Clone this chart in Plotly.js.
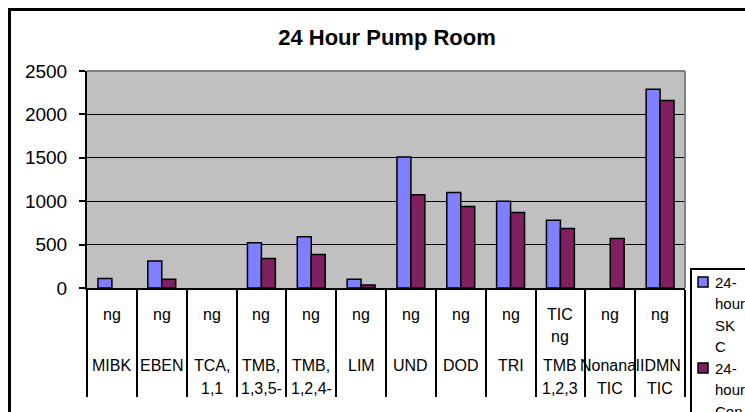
<!DOCTYPE html>
<html>
<head>
<meta charset="utf-8">
<script src="https://cdn.plot.ly/plotly-3.0.1.min.js"></script>
<style>
html,body{margin:0;padding:0;background:#fff;}
#chart{width:745px;height:412px;}
</style>
</head>
<body>
<div id="chart"></div>
<script>
// ---- data ----
const categories = ["MIBK", "EBEN", "TCA, 1,1", "TMB, 1,3,5-", "TMB, 1,2,4-", "LIM", "UND", "DOD", "TRI", "TMB 1,2,3", "Nonanal TIC", "IDMN TIC"];
const unitLine1 = ["ng", "ng", "ng", "ng", "ng", "ng", "ng", "ng", "ng", "TIC", "ng", "ng"];
const unitLine2 = ["", "", "", "", "", "", "", "", "", "ng", "", ""];
const nameLine1 = ["MIBK", "EBEN", "TCA,", "TMB,", "TMB,", "LIM", "UND", "DOD", "TRI", "TMB", "Nonanal", "IDMN"];
const nameLine2 = ["", "", "1,1", "1,3,5-", "1,2,4-", "", "", "", "", "1,2,3", "TIC", "TIC"];
const skcValues = [110, 310, null, 520, 590, 100, 1510, 1100, 1000, 780, null, 2290];
const controlValues = [null, 100, null, 340, 385, 35, 1075, 940, 870, 685, 570, 2160];
const seriesNames = ["24-hour SKC", "24-hour Control"];
const legendLines = [["24-", "hour", "SK", "C"], ["24-", "hour", "Con"]];
const seriesColors = ['#8080FF', '#802060'];
const yTicks = [0, 500, 1000, 1500, 2000, 2500];

// ---- layout helpers (pixel geometry) ----
const W = 745, H = 412;
const L = 87, R = 685, T = 71, B = 288;
const py = Y => (B - Y) / (B - T);
const px = X => (X - L) / (R - L);
const FONT = '"Liberation Sans", Arial, sans-serif';

const traces = [skcValues, controlValues].map((vals, k) => ({
  type: 'bar', name: seriesNames[k], x: categories, y: vals, showlegend: false,
  marker: {color: seriesColors[k], line: {color: '#000', width: 1.5}}
}));

const annotations = [];
const rows = [[unitLine1, 314], [unitLine2, 336], [nameLine1, 365], [nameLine2, 388]];
rows.forEach(([arr, Y]) => {
  arr.forEach((t, i) => {
    if (!t) return;
    annotations.push({xref: 'x', yref: 'paper', x: i, y: py(Y), text: t, showarrow: false,
      xanchor: 'center', yanchor: 'middle', font: {family: FONT, size: 16, color: '#000'}});
  });
});

const shapes = [
  // outer chart border
  {type: 'rect', xref: 'paper', yref: 'paper', x0: px(9.5), x1: px(800), y0: py(9.5), y1: py(500),
   line: {color: '#000', width: 3}, fillcolor: 'rgba(0,0,0,0)', layer: 'below'},
  // plot top & right border (gray)
  {type: 'line', xref: 'paper', yref: 'paper', x0: 0, x1: 1, y0: 1, y1: 1, line: {color: '#808080', width: 2}},
  {type: 'line', xref: 'paper', yref: 'paper', x0: 1, x1: 1, y0: 0, y1: 1, line: {color: '#808080', width: 2}},
  // legend box
  {type: 'rect', xref: 'paper', yref: 'paper', x0: px(691), x1: px(800), y0: py(269), y1: py(500),
   line: {color: '#000', width: 2}, fillcolor: '#fff'}
];

// legend entries (drawn manually, as in the reference's narrow legend box)
const lineStep = 21.5;
legendLines.forEach((lines, k) => {
  const top = 282 + k * 4 * lineStep;
  shapes.push({type: 'rect', xref: 'paper', yref: 'paper', x0: px(698), x1: px(708),
    y0: py(top - 5), y1: py(top + 5), fillcolor: seriesColors[k], line: {color: '#000', width: 1.5}});
  lines.forEach((t, j) => {
    annotations.push({xref: 'paper', yref: 'paper', x: px(713), y: py(top + j * lineStep), text: t,
      showarrow: false, xanchor: 'left', yanchor: 'middle',
      font: {family: FONT, size: 15, color: '#000'}});
  });
});

const layout = {
  width: W, height: H,
  margin: {l: L, r: W - R, t: T, b: H - B, autoexpand: false},
  paper_bgcolor: '#fff',
  plot_bgcolor: '#C0C0C0',
  title: {text: '<b>24 Hour Pump Room</b>', x: 387 / W, xref: 'container', xanchor: 'center',
          y: 1 - 37 / H, yref: 'container', yanchor: 'middle',
          font: {family: FONT, size: 22, color: '#000'}},
  barmode: 'group', bargap: 0.44, bargroupgap: 0,
  xaxis: {type: 'category', showticklabels: false, ticks: 'outside', tickson: 'boundaries',
          ticklen: 107, tickwidth: 2, tickcolor: '#000', showline: true, linecolor: '#000', linewidth: 2,
          showgrid: false, zeroline: false, fixedrange: true},
  yaxis: {range: [0, 2500], tickvals: yTicks, ticktext: yTicks.map(String), ticks: 'outside', ticklen: 6,
          tickwidth: 2, tickcolor: '#000', showline: true, linecolor: '#000', linewidth: 2,
          gridcolor: '#000', gridwidth: 1, zeroline: false, ticklabelstandoff: 8,
          tickfont: {family: FONT, size: 19, color: '#000'}, fixedrange: true},
  showlegend: false,
  annotations: annotations,
  shapes: shapes
};

Plotly.newPlot('chart', traces, layout, {displayModeBar: false, staticPlot: true});
</script>
</body>
</html>
